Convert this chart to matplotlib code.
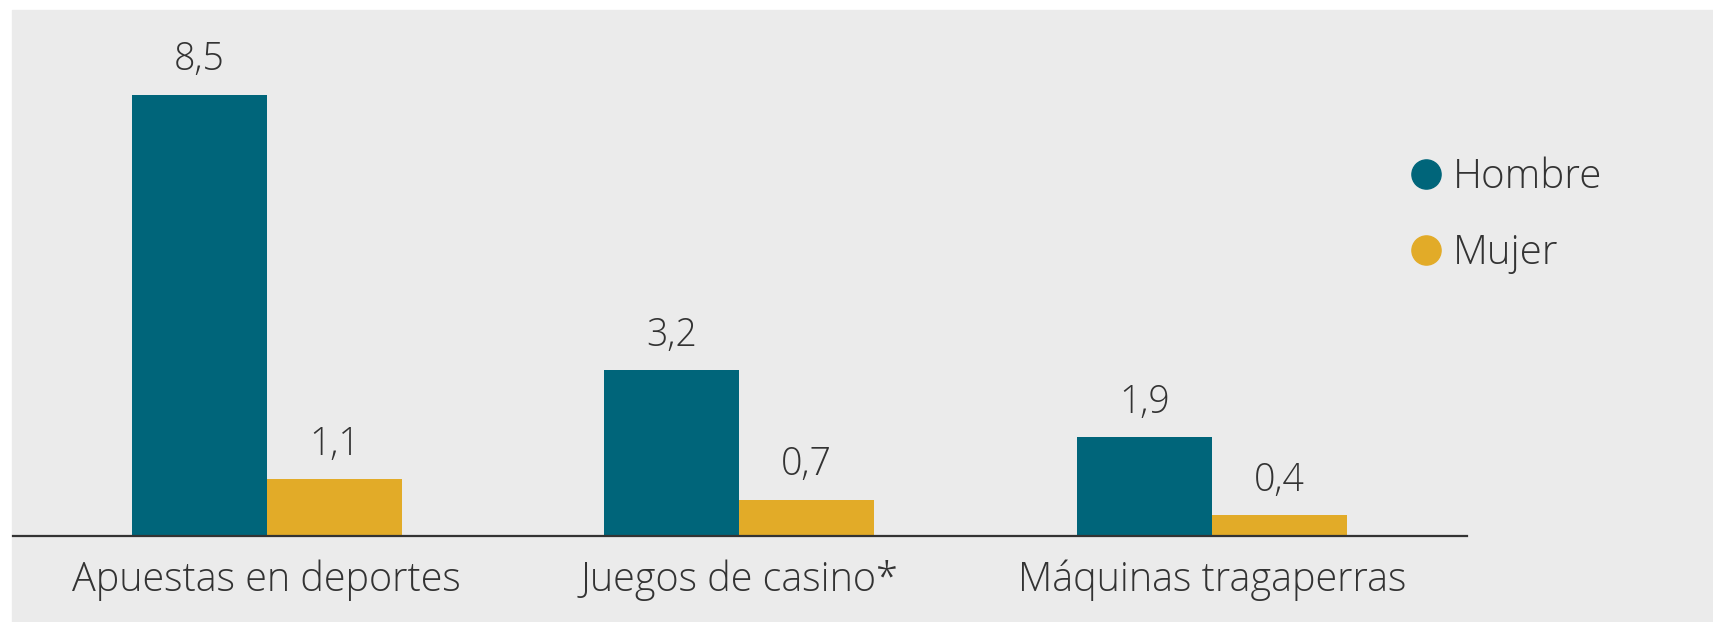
import numpy as np
import matplotlib.pyplot as plt
from matplotlib.patches import Rectangle
from matplotlib.lines import Line2D

categorias = ["Apuestas en deportes", "Juegos de casino*", "Máquinas tragaperras"]
hombre = [8.5, 3.2, 1.9]
mujer = [1.1, 0.7, 0.4]
etiquetas_hombre = ["8,5", "3,2", "1,9"]
etiquetas_mujer = ["1,1", "0,7", "0,4"]

plt.rcParams['font.family'] = ['Open Sans', 'DejaVu Sans']
plt.rcParams['font.weight'] = 300

col_h = '#00657a'
col_m = '#e2ab28'
texto = '#333333'

W, H = 1713, 622
fig = plt.figure(figsize=(W / 100, H / 100), dpi=100, facecolor='white')
# grey panel behind everything
fig.patches.append(Rectangle((12 / W, 0), 1 - 12 / W, (H - 10) / H,
                             transform=fig.transFigure, color='#ebebeb', zorder=-10))

ax = fig.add_axes([13 / W, (H - 536) / H, (1467 - 13) / W, (536 - 10) / H])
ax.set_facecolor('none')
ax.set_zorder(5)

x = np.arange(len(categorias))
w = 0.286
b1 = ax.bar(x - w / 2, hombre, w, color=col_h, label='Hombre')
b2 = ax.bar(x + w / 2, mujer, w, color=col_m, label='Mujer')

for rect, lab in zip(b1, etiquetas_hombre):
    ax.annotate(lab, (rect.get_x() + rect.get_width() / 2, rect.get_height()),
                xytext=(0, 11), textcoords='offset points', ha='center', va='bottom',
                fontsize=27, color=texto)
for rect, lab in zip(b2, etiquetas_mujer):
    ax.annotate(lab, (rect.get_x() + rect.get_width() / 2, rect.get_height()),
                xytext=(0, 11), textcoords='offset points', ha='center', va='bottom',
                fontsize=27, color=texto)

ax.set_xlim(-0.537, 2.54)
ax.set_ylim(0, 10.13)
ax.set_xticks(x)
ax.set_xticklabels(categorias, fontsize=28.5, color=texto)
ax.tick_params(axis='x', length=0, pad=17)
ax.set_yticks([])
for s in ['top', 'right', 'left']:
    ax.spines[s].set_visible(False)
ax.spines['bottom'].set_color('#333333')
ax.spines['bottom'].set_linewidth(1.6)

handles = [Line2D([], [], marker='o', linestyle='none', markersize=21, color=col_h),
           Line2D([], [], marker='o', linestyle='none', markersize=21, color=col_m)]
leg = fig.legend(handles, ['Hombre', 'Mujer'], loc='upper left',
                 bbox_to_anchor=(1376 / W, 1 - 121 / H), frameon=False,
                 handlelength=0.7, handletextpad=0.3, labelspacing=0.86,
                 labelcolor=texto, prop={'size': 29, 'weight': 300})

fig.savefig('out.png', dpi=100, facecolor='white')
